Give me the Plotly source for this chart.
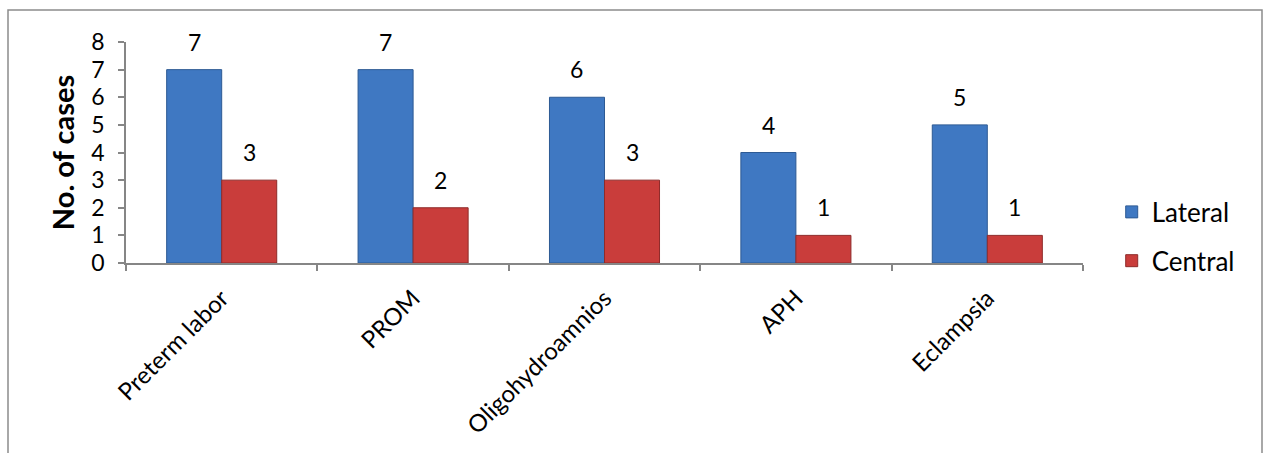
import plotly.graph_objects as go

categories = ["Preterm labor", "PROM", "Oligohydroamnios", "APH", "Eclampsia"]
lateral = [7, 7, 6, 4, 5]
central = [3, 2, 3, 1, 1]
series_names = ["Lateral", "Central"]
y_ticks = [0, 1, 2, 3, 4, 5, 6, 7, 8]

FONT = "Lato, Calibri, Carlito, sans-serif"
W, H = 1265, 453
L, R, T, B = 126, 182, 42, 190
plot_w = W - L - R
plot_h = H - T - B

fig = go.Figure()
fig.add_trace(go.Bar(
    x=categories, y=lateral, name=series_names[0],
    marker=dict(color="#3f78c2", line=dict(color="#2d5a94", width=1)),
    legendgroup="a",
))
fig.add_trace(go.Bar(
    x=categories, y=central, name=series_names[1],
    marker=dict(color="#c93d3b", line=dict(color="#8e2b2a", width=1)),
    legendgroup="b",
))

# value labels above bars
bar_px = plot_w / len(categories) * (1 - 0.425) / 2
for vals, sh in ((lateral, -bar_px / 2), (central, bar_px / 2)):
    for c, v in zip(categories, vals):
        fig.add_annotation(x=c, y=v, text=str(v), showarrow=False,
                           xshift=sh, yshift=12, yanchor="bottom",
                           font=dict(family=FONT, size=23, color="#000"))

# outer chart border
fig.add_shape(type="rect", xref="paper", yref="paper",
              x0=(8 - L) / plot_w, x1=(1262 - L) / plot_w,
              y0=(T + plot_h - 470) / plot_h, y1=1 + (T - 10) / plot_h,
              line=dict(color="#8c8c8c", width=1.5), layer="below")

fig.update_layout(
    width=W, height=H,
    margin=dict(l=L, r=R, t=T, b=B),
    paper_bgcolor="white", plot_bgcolor="white",
    barmode="group", bargap=0.425, bargroupgap=0,
    font=dict(family=FONT, size=23, color="#000"),
    showlegend=True,
    legend=dict(x=1.03, y=0.12, xanchor="left", yanchor="middle",
                font=dict(family=FONT, size=26), tracegroupgap=12,
                itemwidth=30, traceorder="grouped"),
    xaxis=dict(
        tickangle=-45, tickfont=dict(size=24, family=FONT),
        showline=True, linecolor="#868686", linewidth=1.5,
        ticks="outside", tickson="boundaries", ticklen=6,
        tickcolor="#868686", tickwidth=1.5, showgrid=False,
        ticklabelstandoff=10,
    ),
    yaxis=dict(
        range=[0, 8], tickvals=y_ticks, tickfont=dict(size=23, family=FONT),
        showline=True, linecolor="#868686", linewidth=1.5,
        ticks="outside", ticklen=6, tickcolor="#868686", tickwidth=1.5,
        showgrid=False, zeroline=False, ticklabelstandoff=9,
        title=dict(text="<b>No. of cases</b>", font=dict(size=29, family=FONT), standoff=8),
    ),
)

fig.write_html("out.html")
